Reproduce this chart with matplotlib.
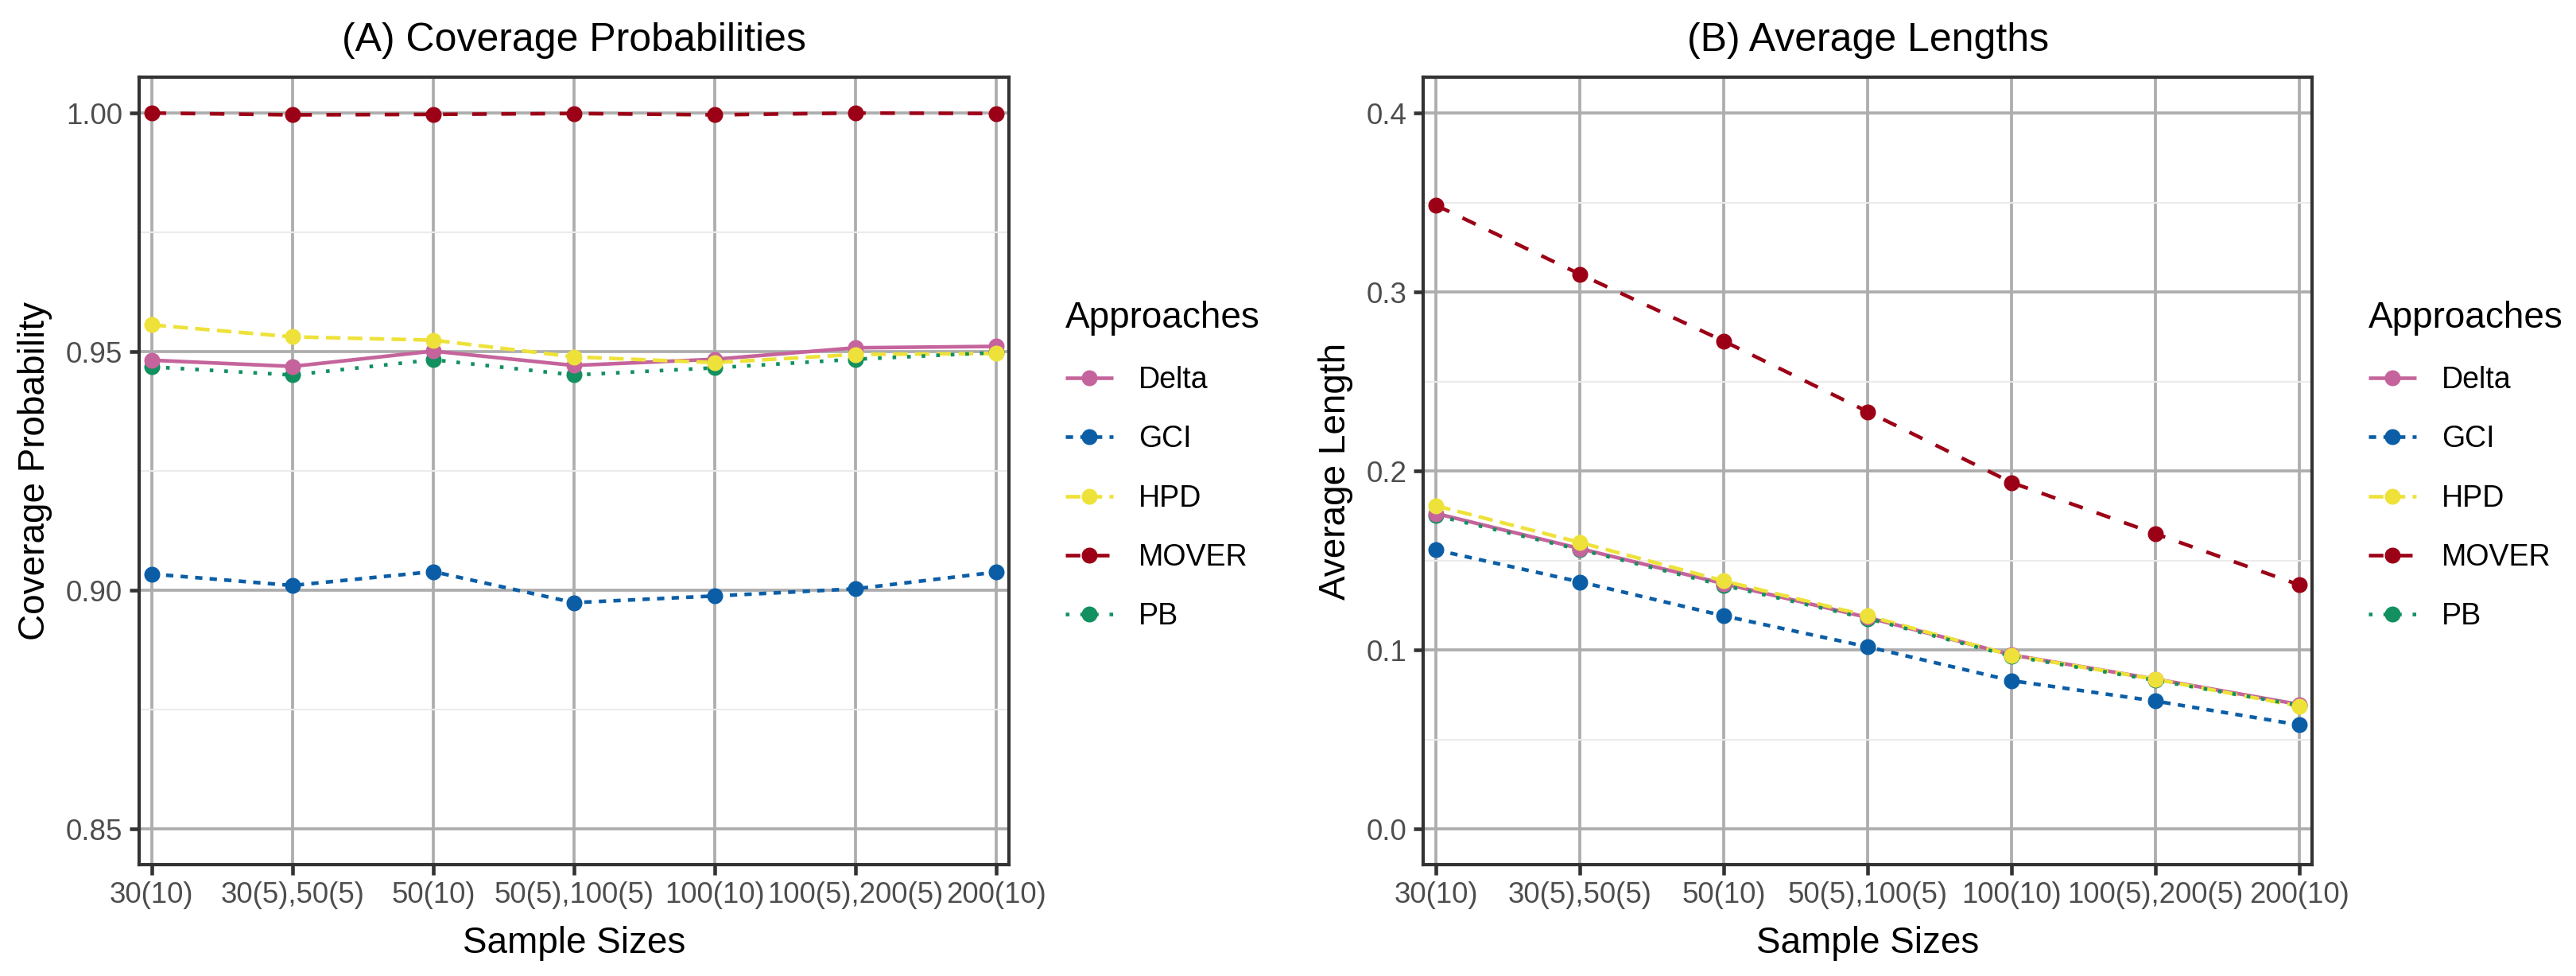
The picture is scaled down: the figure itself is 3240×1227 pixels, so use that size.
import numpy as np
import matplotlib
matplotlib.use("Agg")
import matplotlib.pyplot as plt
from matplotlib.ticker import MultipleLocator

plt.rcParams["font.family"] = ["Liberation Sans", "DejaVu Sans"]
plt.rcParams["lines.scale_dashes"] = True

# sample size settings (x axis)
categories = ["30(10)", "30(5),50(5)", "50(10)", "50(5),100(5)",
              "100(10)", "100(5),200(5)", "200(10)"]
approaches = ["Delta", "GCI", "HPD", "MOVER", "PB"]

# (A) coverage probabilities
delta_cp = [0.9482, 0.9469, 0.9501, 0.9471, 0.9484, 0.9508, 0.9511]
gci_cp = [0.9034, 0.9010, 0.9039, 0.8974, 0.8988, 0.9003, 0.9038]
hpd_cp = [0.9556, 0.9531, 0.9524, 0.9489, 0.9477, 0.9494, 0.9496]
mover_cp = [1.0000, 0.9996, 0.9997, 0.9999, 0.9996, 1.0000, 0.9999]
pb_cp = [0.9468, 0.9451, 0.9483, 0.9451, 0.9466, 0.9484, 0.9498]

# (B) average lengths
delta_al = [0.1762, 0.1566, 0.1370, 0.1181, 0.0972, 0.0837, 0.0695]
gci_al = [0.1558, 0.1380, 0.1190, 0.1017, 0.0828, 0.0714, 0.0581]
hpd_al = [0.1805, 0.1600, 0.1385, 0.1190, 0.0970, 0.0836, 0.0685]
mover_al = [0.3484, 0.3099, 0.2725, 0.2331, 0.1935, 0.1649, 0.1363]
pb_al = [0.1750, 0.1560, 0.1360, 0.1175, 0.0965, 0.0830, 0.0690]

colors = {"Delta": "#C5649C", "GCI": "#0B5EA6", "HPD": "#EEE23A",
          "MOVER": "#9C0016", "PB": "#13905F"}
# ggplot default linetypes: solid, 22, 42, 44, 13
dashes = {"Delta": None, "GCI": (2, 2), "HPD": (4, 2), "MOVER": (4, 4), "PB": (1, 3)}
# points end up stacked with PB at the bottom and HPD on top
point_order = ["PB", "Delta", "GCI", "MOVER", "HPD"]

LW = 1.1
MS = 4.8


def draw_panel(ax, series, ylim, major, minor, title, ylabel, fmt):
    x = np.arange(len(categories))
    for name in approaches:
        kw = dict(color=colors[name], lw=LW, solid_capstyle="butt", dash_capstyle="butt")
        if dashes[name] is not None:
            kw["dashes"] = dashes[name]
        ax.plot(x, series[name], zorder=3, **kw)
    for name in point_order:
        ax.plot(x, series[name], "o", color=colors[name], ms=MS, mew=0, zorder=4)

    handles = []
    for name in approaches:
        kw = dict(color=colors[name], lw=LW, marker="o", ms=MS, mew=0,
                  solid_capstyle="butt", dash_capstyle="butt")
        if dashes[name] is not None:
            kw["dashes"] = dashes[name]
        h, = ax.plot([], [], label=name, **kw)
        handles.append(h)

    ax.set_xlim(-0.09, len(categories) - 1 + 0.09)
    ax.set_ylim(*ylim)
    ax.set_xticks(x)
    ax.set_xticklabels(categories)
    ax.yaxis.set_major_locator(MultipleLocator(major))
    ax.yaxis.set_minor_locator(MultipleLocator(minor))
    ax.yaxis.set_major_formatter(plt.FormatStrFormatter(fmt))
    ax.grid(which="major", axis="both", color="#ADADAD", lw=0.9, zorder=0)
    ax.grid(which="minor", axis="y", color="#EBEBEB", lw=0.5, zorder=0)
    ax.set_axisbelow(True)
    ax.tick_params(which="major", length=3.0, width=1.1, color="#333333",
                   labelsize=8.8, labelcolor="#4D4D4D", pad=2)
    ax.tick_params(which="minor", length=0)
    for s in ax.spines.values():
        s.set_color("#333333")
        s.set_linewidth(1.0)
    ax.set_title(title, fontsize=12, pad=8)
    ax.set_xlabel("Sample Sizes", fontsize=11, labelpad=5)
    ax.set_ylabel(ylabel, fontsize=11, labelpad=4)
    return handles


fig = plt.figure(figsize=(10.8, 4.09), dpi=300)
ax_a = fig.add_axes([0.0539, 0.1141, 0.3378, 0.8068])
ax_b = fig.add_axes([0.5525, 0.1141, 0.3451, 0.8068])

cp = {"Delta": delta_cp, "GCI": gci_cp, "HPD": hpd_cp, "MOVER": mover_cp, "PB": pb_cp}
al = {"Delta": delta_al, "GCI": gci_al, "HPD": hpd_al, "MOVER": mover_al, "PB": pb_al}

ha = draw_panel(ax_a, cp, (0.8425, 1.0075), 0.05, 0.025,
                "(A) Coverage Probabilities", "Coverage Probability", "%.2f")
hb = draw_panel(ax_b, al, (-0.02, 0.42), 0.1, 0.05,
                "(B) Average Lengths", "Average Length", "%.1f")

for handles, x0 in ((ha, 1340), (hb, 2979)):
    fig.legend(handles=handles, title="Approaches", loc="upper left",
               bbox_to_anchor=(x0 / 3240, 1 - 378 / 1227),
               frameon=False, fontsize=9, title_fontsize=11,
               handlelength=1.6, handletextpad=0.85, labelspacing=1.02,
               borderpad=0, borderaxespad=0, alignment="left")

fig.savefig("out.png", dpi=300)
